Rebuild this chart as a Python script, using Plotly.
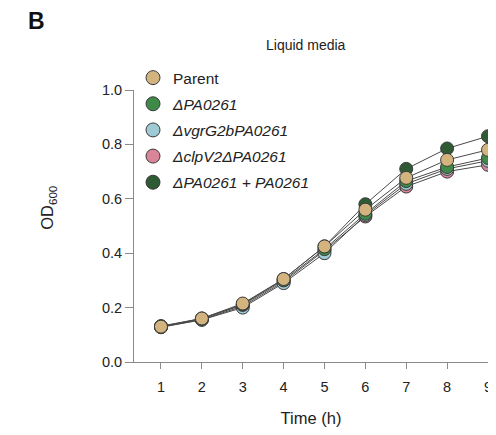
import plotly.graph_objects as go

time_h = [1, 2, 3, 4, 5, 6, 7, 8, 9]
names = ["Parent", "<i>ΔPA0261</i>", "<i>ΔvgrG2bPA0261</i>", "<i>ΔclpV2ΔPA0261</i>", "<i>ΔPA0261 + PA0261</i>"]
parent = [0.130, 0.160, 0.215, 0.305, 0.425, 0.560, 0.677, 0.743, 0.780]
d_pa0261 = [0.130, 0.158, 0.210, 0.300, 0.415, 0.545, 0.665, 0.717, 0.750]
d_vgrg = [0.128, 0.155, 0.200, 0.290, 0.400, 0.540, 0.655, 0.710, 0.740]
d_clpv = [0.128, 0.156, 0.205, 0.295, 0.410, 0.535, 0.645, 0.700, 0.725]
complemented = [0.132, 0.160, 0.212, 0.305, 0.425, 0.580, 0.710, 0.785, 0.830]
err = [0.003, 0.003, 0.004, 0.005, 0.006, 0.006, 0.008, 0.010, 0.010]

series = [parent, d_pa0261, d_vgrg, d_clpv, complemented]
colors = ["#D3B47E", "#3F8A49", "#9DCAD3", "#D98497", "#2E5B34"]
draw_order = [3, 2, 1, 4, 0]

OFF = 8  # page body margin
W, H = 496 - OFF, 435 - 2 * OFF
L = 134 - OFF
T = 90 - OFF
R = W - (488 - OFF)
B = H - (362.5 - OFF)
pw, ph = W - L - R, H - T - B

def px(x):  # screen pixel -> paper
    return (x - OFF - L) / pw

def py(y):
    return (H - B - (y - OFF)) / ph

fig = go.Figure()
for i in draw_order:
    fig.add_trace(go.Scatter(
        x=time_h, y=series[i], name=names[i], mode="lines+markers",
        showlegend=False,
        line=dict(color="#4a4a4a", width=1),
        marker=dict(size=13, color=colors[i], line=dict(color="#3a3a3a", width=1)),
        error_y=dict(type="data", array=err, color="#555555", thickness=1, width=4),
        cliponaxis=False,
    ))
for i in range(5):
    fig.add_trace(go.Scatter(
        x=[None], y=[None], name=names[i], mode="markers", legendgroup=str(i),
        marker=dict(size=14, color=colors[i], line=dict(color="#3a3a3a", width=1)),
    ))

fig.update_layout(
    width=W, height=H,
    margin=dict(l=L, r=R, t=T, b=B, autoexpand=False),
    paper_bgcolor="white", plot_bgcolor="white",
    font=dict(family="Liberation Sans, Arial, sans-serif", color="#333333", size=14),
    showlegend=True,
    legend=dict(x=px(133), y=py(61), xanchor="left", yanchor="top",
                font=dict(size=15.5, color="#222222"), tracegroupgap=3,
                bgcolor="rgba(0,0,0,0)", itemwidth=30),
    annotations=[
        dict(text="<b>B</b>", x=px(36), y=py(21), xref="paper", yref="paper", showarrow=False,
             xanchor="center", yanchor="middle", font=dict(size=23, color="#111111")),
        dict(text="Liquid media", x=px(306), y=py(45), xref="paper", yref="paper", showarrow=False,
             xanchor="center", yanchor="middle", font=dict(size=14, color="#222222")),
        dict(text="OD<sub>600</sub>", x=px(48), y=py(208), xref="paper", yref="paper", showarrow=False,
             xanchor="center", yanchor="middle", textangle=-90, font=dict(size=16.5, color="#222222")),
    ],
)

fig.update_xaxes(range=[0.34, 9], tickvals=time_h, showline=True, linecolor="#8a8a8a", linewidth=1,
                 ticks="outside", ticklen=6, tickcolor="#8a8a8a", showgrid=False, zeroline=False,
                 automargin=False, ticklabeloverflow="allow", ticklabelstandoff=6,
                 tickfont=dict(size=14.5, color="#222222"),
                 title=dict(text="Time (h)", font=dict(size=16.5, color="#222222"), standoff=18))
fig.update_yaxes(range=[0, 1.0], tickvals=[0, 0.2, 0.4, 0.6, 0.8, 1.0], tickformat=".1f",
                 showline=True, linecolor="#8a8a8a", linewidth=1,
                 ticks="outside", ticklen=8, tickcolor="#8a8a8a", showgrid=False, zeroline=False,
                 automargin=False, ticklabeloverflow="allow",
                 tickfont=dict(size=14.5, color="#222222"))

fig.write_html("out.html")
